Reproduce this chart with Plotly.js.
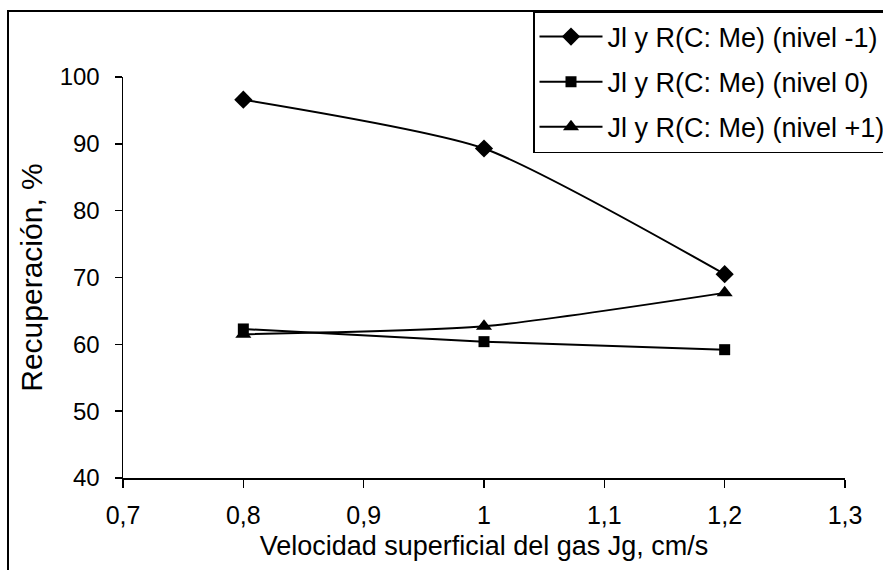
<!DOCTYPE html>
<html>
<head>
<meta charset="utf-8">
<script src="https://cdn.plot.ly/plotly-3.0.1.min.js"></script>
<style>html,body{margin:0;padding:0;background:#fff;}#chart{width:883px;height:570px;}</style>
</head>
<body>
<div id="chart"></div>
<script>
const jg = [0.8, 1.0, 1.2];
const nivelMenos1 = [96.6, 89.3, 70.5];
const nivel0 = [62.3, 60.4, 59.2];
const nivelMas1 = [61.5, 62.7, 67.7];
const seriesNames = ["Jl y R(C: Me) (nivel -1)", "Jl y R(C: Me) (nivel 0)", "Jl y R(C: Me) (nivel +1)"];
const xTickVals = [0.7, 0.8, 0.9, 1.0, 1.1, 1.2, 1.3];
const xTickText = ["0,7", "0,8", "0,9", "1", "1,1", "1,2", "1,3"];
const yTickVals = [40, 50, 60, 70, 80, 90, 100];
const xTitle = "Velocidad superficial del gas Jg, cm/s";
const yTitle = "Recuperación, %";

const FONT = "Liberation Sans, Arial, sans-serif";
const symbols = ["diamond", "square", "triangle-up"];
const sizes = [14, 11, 14];
const ys = [nivelMenos1, nivel0, nivelMas1];

const traces = ys.map((y, i) => ({
  x: jg, y: y, name: seriesNames[i], type: "scatter", mode: "lines+markers",
  legendgroup: "g" + i,
  line: {color: "#000", width: 2, shape: "spline", smoothing: 0.6},
  marker: {symbol: symbols[i], size: sizes[i], color: "#000"}
}));

const L = 123, R = 845, T = 77, B = 478;
const W = R - L, H = B - T;
const px = v => (v - L) / W;
const py = v => (B - v) / H;

const layout = {
  width: 883, height: 570,
  margin: {l: L, r: 883 - R, t: T, b: 570 - B, autoexpand: false},
  paper_bgcolor: "#fff", plot_bgcolor: "#fff",
  font: {family: FONT, size: 24, color: "#000"},
  showlegend: true,
  legend: {
    x: px(533), y: py(11), xanchor: "left", yanchor: "top",
    bgcolor: "#fff", bordercolor: "#000", borderwidth: 1.5,
    font: {family: FONT, size: 27, color: "#000"},
    traceorder: "grouped", tracegroupgap: 7, itemwidth: 63
  },
  xaxis: {
    range: [0.7, 1.3], tickvals: xTickVals, ticktext: xTickText,
    showgrid: false, zeroline: false, showline: true, linecolor: "#000", linewidth: 1.5,
    ticks: "outside", ticklen: 8, tickwidth: 1.5, tickcolor: "#000",
    ticklabelstandoff: 6, automargin: false,
    tickfont: {family: FONT, size: 25, color: "#000"},
    title: {text: xTitle, font: {family: FONT, size: 27, color: "#000"}, standoff: 8}
  },
  yaxis: {
    range: [40, 100], tickvals: yTickVals,
    showgrid: false, zeroline: false, showline: true, linecolor: "#000", linewidth: 1.5,
    ticks: "outside", ticklen: 7, tickwidth: 1.5, tickcolor: "#000",
    ticklabelstandoff: 10, automargin: false,
    tickfont: {family: FONT, size: 24, color: "#000"},
    title: {text: yTitle, font: {family: FONT, size: 30, color: "#000"}, standoff: 8}
  },
  shapes: [{
    type: "rect", xref: "paper", yref: "paper",
    x0: px(8), x1: px(890), y0: py(575), y1: py(11),
    line: {color: "#000", width: 2}, fillcolor: "rgba(0,0,0,0)", layer: "below"
  }]
};

Plotly.newPlot("chart", traces, layout, {displayModeBar: false, staticPlot: true});
</script>
</body>
</html>
